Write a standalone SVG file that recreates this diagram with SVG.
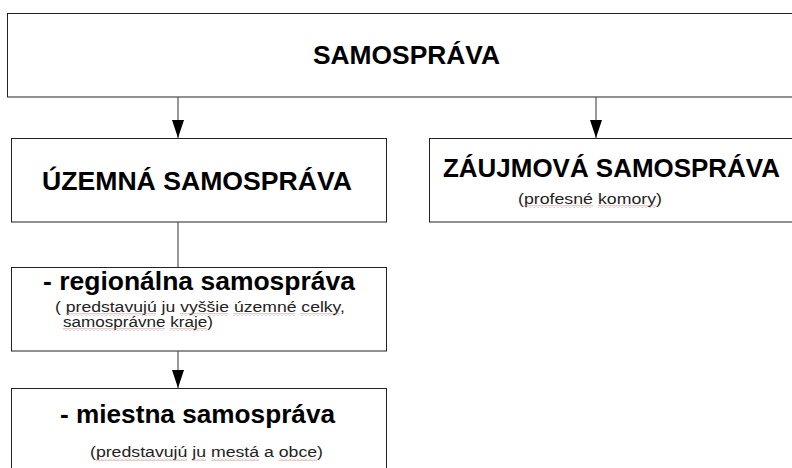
<svg xmlns="http://www.w3.org/2000/svg" width="792" height="468" viewBox="0 0 792 468">
<defs>
<marker id="ah" markerUnits="userSpaceOnUse" markerWidth="18" markerHeight="12" refX="18" refY="6" orient="auto" viewBox="0 0 18 12">
<path d="M0,0 L18,6 L0,12 Z" fill="#000"/>
</marker>
<pattern id="wavy" x="0" y="0" width="4" height="3" patternUnits="userSpaceOnUse">
<path d="M0,2.5 L2,0.5 L4,2.5" fill="none" stroke="#d08a8a" stroke-width="0.9"/>
</pattern>
</defs>
<style>
.box{fill:#fff;stroke:#222;stroke-width:1}
.b{font-family:"Liberation Sans",Arial,sans-serif;font-weight:bold;fill:#000}
.s{font-family:"Liberation Sans",Arial,sans-serif;fill:#222;font-size:14px}
.con{stroke:#555;stroke-width:1.2;fill:none}
.wv{fill:url(#wavy)}
</style>
<rect width="792" height="468" fill="#fff"/>
<g id="samosprava">
<rect class="box" x="7.5" y="13.5" width="800" height="83.5"/>
<text class="b" x="313" y="64" font-size="25" textLength="187" lengthAdjust="spacingAndGlyphs">SAMOSPRÁVA</text>
</g>
<g id="uzemna">
<rect class="box" x="11.5" y="138.5" width="375" height="83.5"/>
<text class="b" x="42" y="190" font-size="25.5" textLength="310" lengthAdjust="spacingAndGlyphs">ÚZEMNÁ SAMOSPRÁVA</text>
</g>
<g id="zaujmova">
<rect class="box" x="429.5" y="138.5" width="400" height="83.5"/>
<text class="b" x="443" y="177" font-size="25.5" textLength="337" lengthAdjust="spacingAndGlyphs">ZÁUJMOVÁ SAMOSPRÁVA</text>
<text class="s" x="518" y="204" textLength="144" lengthAdjust="spacingAndGlyphs">(profesné komory)</text>
<rect class="wv" x="524" y="205" width="69" height="3"/>
<rect class="wv" x="598" y="205" width="58" height="3"/>
</g>
<g id="regionalna">
<rect class="box" x="11.5" y="267.5" width="375" height="83.5"/>
<text class="b" x="43" y="290" font-size="25.5" textLength="312" lengthAdjust="spacingAndGlyphs">- regionálna samospráva</text>
<text class="s" x="55" y="312" textLength="290" lengthAdjust="spacingAndGlyphs">( predstavujú ju vyššie územné celky,</text>
<text class="s" x="63" y="327" textLength="150" lengthAdjust="spacingAndGlyphs">samosprávne kraje)</text>
<rect class="wv" x="66" y="313" width="90" height="3"/>
<rect class="wv" x="180" y="313" width="48" height="3"/>
<rect class="wv" x="233" y="313" width="62" height="3"/>
<rect class="wv" x="300" y="313" width="40" height="3"/>
<rect class="wv" x="63" y="328" width="102" height="3"/>
<rect class="wv" x="170" y="328" width="37" height="3"/>
</g>
<g id="miestna">
<rect class="box" x="11.5" y="388.5" width="375" height="100"/>
<text class="b" x="60" y="423" font-size="25.5" textLength="275" lengthAdjust="spacingAndGlyphs">- miestna samospráva</text>
<text class="s" x="90" y="457" textLength="233" lengthAdjust="spacingAndGlyphs">(predstavujú ju mestá a obce)</text>
<rect class="wv" x="96" y="458" width="91" height="3"/>
<rect class="wv" x="192" y="458" width="14" height="3"/>
<rect class="wv" x="211" y="458" width="48" height="3"/>
<rect class="wv" x="279" y="458" width="38" height="3"/>
</g>
<g id="connectors">
<line class="con" x1="178" y1="97" x2="178" y2="138" marker-end="url(#ah)"/>
<line class="con" x1="596" y1="97" x2="596" y2="138" marker-end="url(#ah)"/>
<line class="con" x1="178" y1="222" x2="178" y2="267"/>
<line class="con" x1="178" y1="351" x2="178" y2="388" marker-end="url(#ah)"/>
</g>
</svg>
